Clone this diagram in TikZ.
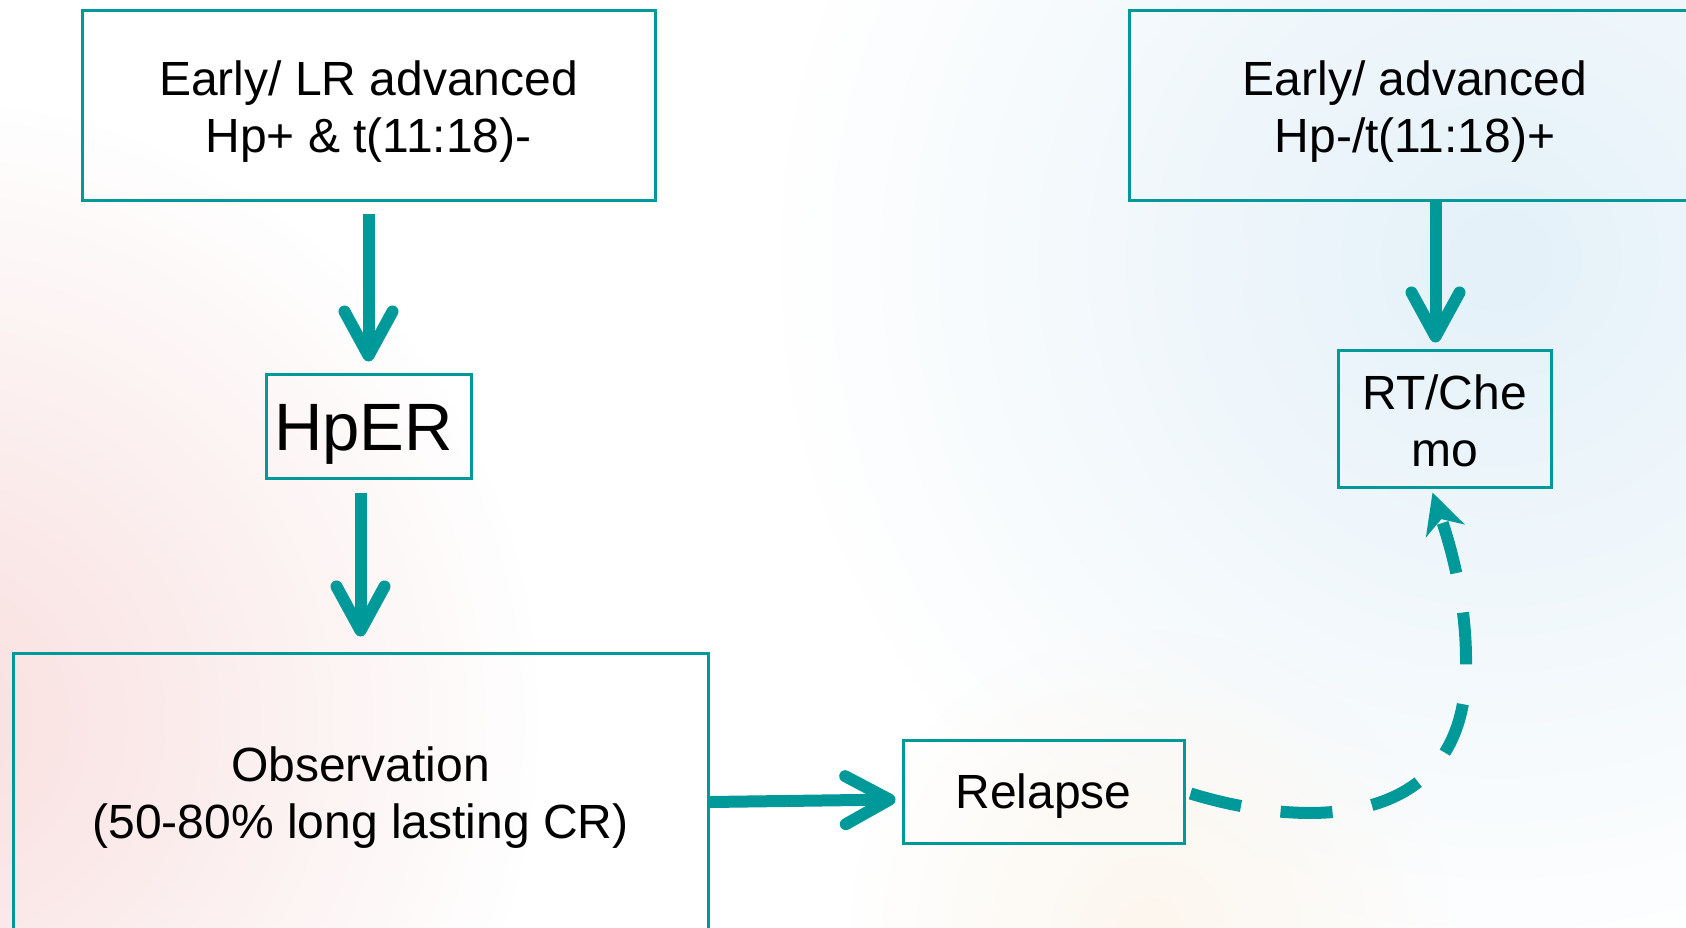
\documentclass[tikz,border=0pt]{standalone}
\usepackage{fontspec}
\setmainfont{Liberation Sans}
\usetikzlibrary{arrows.meta,fadings}
\tikzfading[name=bgfade, inner color=transparent!0, outer color=transparent!100]
\definecolor{teal}{RGB}{0,153,153}
\definecolor{pinkbg}{RGB}{249,222,222}
\definecolor{bluebg}{RGB}{228,241,249}
\definecolor{creambg}{RGB}{252,246,238}
\tikzset{
  box/.style={draw=teal, line width=3pt, inner sep=0pt},
  txt/.style={align=center, inner sep=0pt, text=black,
    font=\fontsize{48}{57}\selectfont},
  bigarrow/.style={draw=teal, line width=12pt,
    -{Straight Barb[length=44pt,width=48pt,round]}},
  dasharrow/.style={draw=teal, line width=12pt, dash pattern=on 52pt off 40pt,
    -{Stealth[length=40pt,width=40pt,inset=12pt]}}
}
\begin{document}
\begin{tikzpicture}[x=1pt,y=-1pt]
\useasboundingbox (0,0) rectangle (1686,927);
% background
\fill[white] (0,0) rectangle (1686,927);
\fill[pinkbg, path fading=bgfade] (-80,720) circle (620pt);
\fill[bluebg, path fading=bgfade] (1500,260) circle (720pt);
\fill[creambg, path fading=bgfade] (1150,930) circle (300pt);
% boxes
\node[box, minimum width=573pt, minimum height=190pt] (b1) at (368.5,105.5) {};
\node[box, minimum width=572pt, minimum height=190pt] (b2) at (1415,105.5) {};
\node[box, minimum width=205pt, minimum height=104pt] (hper) at (368.5,426) {};
\node[box, minimum width=213pt, minimum height=137pt] (rt) at (1444.5,418.5) {};
\node[box, minimum width=695pt, minimum height=282pt] (obs) at (360.5,794) {};
\node[box, minimum width=281pt, minimum height=103pt] (rel) at (1043.5,791.5) {};
% texts
\node[txt] (b1t) at ([yshift=-6pt]b1.center) {Early/ LR advanced\\Hp+ \& t(11:18)-};
\node[txt] (b2t) at ([yshift=-6pt]b2.center) {Early/ advanced\\Hp-/t(11:18)+};
\node[txt, font=\fontsize{67}{80}\selectfont] (hpert) at ([xshift=-5pt,yshift=-8pt]hper.center) {HpER};
\node[txt] (rtt) at ([yshift=-2pt]rt.center) {RT/Che\\mo};
\node[txt] (obst) at ([yshift=-4pt]obs.center) {Observation\\(50-80\% long lasting CR)};
\node[txt] (relt) at ([yshift=-5pt]rel.center) {Relapse};
% connectors
\draw[bigarrow] ([yshift=-12pt]b1.south) -- ([yshift=11pt]hper.north);
\draw[bigarrow] ([xshift=-8pt,yshift=-13pt]hper.south) -- ([xshift=-8pt,yshift=15pt]hper.south |- obs.north);
\draw[bigarrow] ([xshift=-9pt]rt.north |- b2.south) -- ([xshift=-9pt,yshift=6pt]rt.north);
\draw[bigarrow] ([yshift=-8pt]obs.east) -- ([xshift=-6pt,yshift=-8pt]rel.west);
\draw[dasharrow] ([xshift=5pt,yshift=-2pt]rel.east)
  .. controls (1310,830) and (1470,830) .. (1466,660)
  .. controls (1466,590) and (1445,530) .. ([xshift=-12pt,yshift=-4pt]rt.south);
\end{tikzpicture}
\end{document}
